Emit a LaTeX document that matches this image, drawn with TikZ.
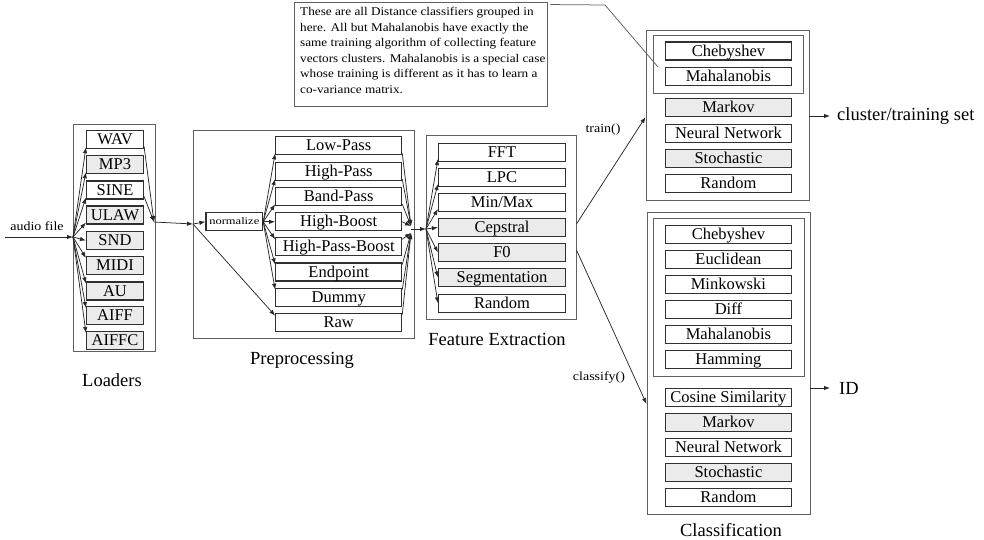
\documentclass[tikz,border=0pt]{standalone}
\usepackage{fontspec}
\setmainfont{Liberation Serif}
\newfontfamily\smallfnt[FakeStretch=1.12]{Liberation Serif}
\newfontfamily\widefnt[FakeStretch=1.25]{Liberation Serif}
\usetikzlibrary{arrows.meta}
\definecolor{grayfill}{HTML}{EBEBEB}
\definecolor{boxc}{HTML}{303030}
\definecolor{outerc}{HTML}{606060}
\definecolor{linec}{HTML}{282828}
\begin{document}
\begin{tikzpicture}[x=1pt,y=-1pt,
  lbox/.style={draw=boxc, line width=1.1pt, inner sep=0pt, minimum height=18pt,
    text height=12.3pt, text depth=2.2pt, font=\fontsize{16.5}{18}\selectfont},
  gbox/.style={lbox, fill=grayfill},
  outer/.style={draw=outerc, line width=0.9pt, inner sep=0pt},
  conn/.style={draw=linec, line width=0.75pt, -{Latex[length=6pt,width=4.4pt]}},
  plainline/.style={draw=outerc, line width=0.75pt},
  sect/.style={font=\fontsize{18.5}{20}\selectfont, inner sep=0pt},
  small/.style={font=\smallfnt\fontsize{12.5}{14}\selectfont, inner sep=0pt},
  lw/.style={minimum width=57pt},
  pw/.style={minimum width=126pt},
  fw/.style={minimum width=127pt},
  cw/.style={minimum width=125.5pt}]
\useasboundingbox (0,0) rectangle (984,540);

% outer frames
\node[outer, minimum width=82pt, minimum height=227pt] (ldr) at (114,237.5) {};
\node[outer, minimum width=221pt, minimum height=208pt] (pre) at (303.5,234) {};
\node[outer, minimum width=150pt, minimum height=184pt] (fe) at (501,227) {};
\node[outer, minimum width=163pt, minimum height=170pt] (tr) at (727.5,115) {};
\node[outer, minimum width=150pt, minimum height=58pt] (trg) at (728,64) {};
\node[outer, minimum width=163pt, minimum height=302pt] (cl) at (728.5,363) {};
\node[outer, minimum width=151pt, minimum height=158pt] (clg) at (728.5,297) {};

% note
\node[outer, minimum width=253pt, minimum height=104pt] (note) at (420.5,54) {};
\node[anchor=north west, align=left, inner sep=0pt, font=\smallfnt\fontsize{11.8}{15.6}\selectfont] (notetext) at (300,7)
 {These are all Distance classifiers grouped in\\
  here. All but Mahalanobis have exactly the\\
  same training algorithm of collecting feature\\
  vectors clusters. Mahalanobis is a special case\\
  whose training is different as it has to learn a\\
  co-variance matrix.};

% loaders
\node[lbox, lw] (wav) at (115,139.7) {WAV};
\node[gbox, lw] (mp3) at (115,164.7) {MP3};
\node[lbox, lw] (sine) at (115,190) {SINE};
\node[gbox, lw] (ulaw) at (115,215) {ULAW};
\node[gbox, lw] (snd) at (115,240.5) {SND};
\node[gbox, lw] (midi) at (115,265.5) {MIDI};
\node[gbox, lw] (au) at (115,291) {AU};
\node[gbox, lw] (aiff) at (115,315.5) {AIFF};
\node[gbox, lw] (aiffc) at (115,340.5) {AIFFC};

% preprocessing
\node[lbox, minimum width=56.7pt, font=\widefnt\fontsize{10}{12}\selectfont, text height=7pt, text depth=2pt] (norm) at (234.3,221.8) {normalize};
\node[lbox, pw] (lowp) at (338.7,145.8) {Low-Pass};
\node[lbox, pw] (highp) at (338.7,171.5) {High-Pass};
\node[lbox, pw] (bandp) at (338.7,196.7) {Band-Pass};
\node[lbox, pw] (hboost) at (338.7,221.8) {High-Boost};
\node[lbox, pw] (hpb) at (338.7,246.8) {High-Pass-Boost};
\node[lbox, pw] (endp) at (338.7,272) {Endpoint};
\node[lbox, pw] (dummy) at (338.7,297.2) {Dummy};
\node[lbox, pw] (raw) at (338.7,322.2) {Raw};

% feature extraction
\node[lbox, fw] (fft) at (502,152.5) {FFT};
\node[lbox, fw] (lpc) at (502,177.5) {LPC};
\node[lbox, fw] (minmax) at (502,202.5) {Min/Max};
\node[gbox, fw] (cep) at (502,227.5) {Cepstral};
\node[gbox, fw] (fzero) at (502,252.5) {F0};
\node[gbox, fw] (seg) at (502,277.5) {Segmentation};
\node[lbox, fw] (frand) at (502,303.3) {Random};

% training
\node[lbox, cw] (tcheb) at (728.4,51) {Chebyshev};
\node[lbox, cw] (tmaha) at (728.4,76.3) {Mahalanobis};
\node[gbox, cw] (tmark) at (728.4,107.8) {Markov};
\node[lbox, cw] (tnn) at (728.4,133.3) {Neural Network};
\node[gbox, cw] (tsto) at (728.4,158.3) {Stochastic};
\node[lbox, cw] (trand) at (728.4,183.3) {Random};

% classification
\node[lbox, cw] (ccheb) at (728.4,234.2) {Chebyshev};
\node[lbox, cw] (ceuc) at (728.4,259.2) {Euclidean};
\node[lbox, cw] (cmink) at (728.4,284.5) {Minkowski};
\node[lbox, cw] (cdiff) at (728.4,309.8) {Diff};
\node[lbox, cw] (cmaha) at (728.4,334.8) {Mahalanobis};
\node[lbox, cw] (cham) at (728.4,359.8) {Hamming};
\node[lbox, cw] (ccos) at (728.4,397.7) {Cosine Similarity};
\node[gbox, cw] (cmark) at (728.4,422.8) {Markov};
\node[lbox, cw] (cnn) at (728.4,447.8) {Neural Network};
\node[gbox, cw] (csto) at (728.4,472.8) {Stochastic};
\node[lbox, cw] (crand) at (728.4,497.8) {Random};

% labels
\node[small] (audio) at (37,226) {audio file};
\node[sect] (lLoad) at (112,380) {Loaders};
\node[sect] (lPre) at (302,360) {Preprocessing};
\node[sect] (lFe) at (497,339) {Feature Extraction};
\node[sect] (lCl) at (731,530) {Classification};
\node[small] (ltrain) at (603,129) {train()};
\node[small] (lclass) at (599,377) {classify()};
\node[sect, anchor=west] (lclus) at (837,116) {cluster/training set};
\node[sect, anchor=west] (lid) at (839,388) {ID};

% connection points
\coordinate (src) at (5,237);
\coordinate (f1) at (73,237);
\coordinate (c1) at (154,222);
\coordinate (f2) at (193,224);
\coordinate (c2a) at (411,226);
\coordinate (c2b) at (411,233);
\coordinate (c2) at (411,229);
\coordinate (f3) at (426,229);
\coordinate (nbend) at (605,5);
\coordinate (nend) at (658,67);

% loaders connectors
\draw[conn] (src) -- (f1);
\foreach \n in {wav,mp3,sine,ulaw}{\draw[conn] (f1) -- ([yshift=2pt]\n.south west);}
\draw[conn] (f1) -- (snd.west);
\foreach \n in {midi,au,aiff,aiffc}{\draw[conn] (f1) -- ([yshift=-2pt]\n.north west);}
\draw[conn] ([yshift=3pt]wav.south east) -- (c1);
\draw[conn] ([yshift=3pt]sine.south east) -- (c1);
\draw[conn] (c1) -- (f2);

% preprocessing connectors
\draw[conn] (f2) -- (norm.west);
\draw[conn] (f2) -- ([yshift=-3pt]raw.north west);
\foreach \n in {lowp,highp,bandp}{\draw[conn] (norm.east) -- ([yshift=2pt]\n.south west);}
\draw[conn] (norm.east) -- (hboost.west);
\foreach \n in {hpb,endp,dummy}{\draw[conn] (norm.east) -- ([yshift=-2pt]\n.north west);}
\foreach \n in {lowp,highp,bandp}{\draw[conn] ([yshift=2pt]\n.south east) -- (c2a);}
\draw[conn] (hboost.east) -- (c2a);
\foreach \n in {hpb,endp,dummy,raw}{\draw[conn] ([yshift=-2pt]\n.north east) -- (c2b);}
\draw[conn] (c2) -- (f3);

% feature connectors
\foreach \n in {fft,lpc,minmax}{\draw[conn] (f3) -- ([yshift=3pt]\n.south west);}
\foreach \n in {cep,fzero,seg,frand}{\draw[conn] (f3) -- (\n.west);}

% train / classify
\draw[conn] ([yshift=3pt]fe.east) -- ([yshift=-2pt]tr.west);
\draw[conn] ([yshift=-23pt]fe.east) -- ([yshift=-41pt]cl.west);
\draw[conn] (tr.east |- lclus.west) -- ([xshift=-7pt]lclus.west);
\draw[conn] (cl.east |- lid.west) -- ([xshift=-9pt]lid.west);

% note connector
\draw[plainline] ([shift={(3pt,-3pt)}]note.north east) -- (nbend) -- (nend);
\end{tikzpicture}
\end{document}
